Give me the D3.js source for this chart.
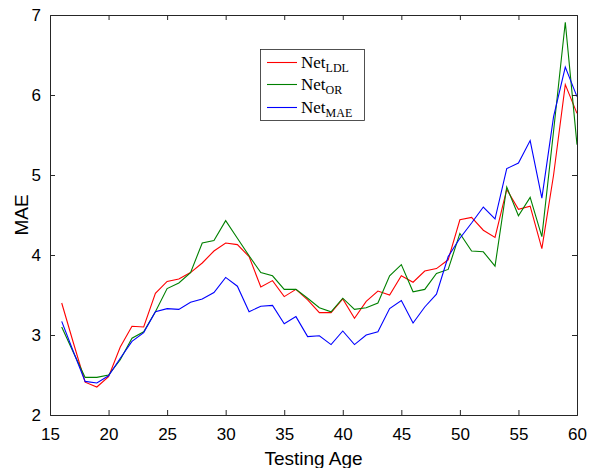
<!DOCTYPE html>
<html><head><meta charset="utf-8">
<script src="https://cdn.jsdelivr.net/npm/d3@7"></script>
<style>body{margin:0;background:#fff}svg{display:block}</style>
</head><body>
<script>
const ages = d3.range(16, 61);
const netLDL = [3.40,2.90,2.41,2.35,2.48,2.85,3.11,3.10,3.52,3.67,3.70,3.78,3.90,4.05,4.15,4.13,3.98,3.60,3.68,3.48,3.57,3.44,3.28,3.28,3.45,3.21,3.42,3.55,3.50,3.74,3.66,3.80,3.83,3.94,4.44,4.47,4.31,4.22,4.82,4.57,4.61,4.08,5.00,6.13,5.77];
const netOR  = [3.10,2.78,2.47,2.47,2.50,2.69,2.96,3.04,3.29,3.58,3.65,3.78,4.15,4.18,4.43,4.21,3.99,3.78,3.74,3.57,3.57,3.46,3.34,3.29,3.46,3.32,3.34,3.40,3.74,3.88,3.54,3.57,3.77,3.82,4.27,4.05,4.04,3.86,4.85,4.49,4.72,4.23,5.55,6.91,5.38];
const netMAE = [3.17,2.79,2.42,2.40,2.49,2.71,2.92,3.03,3.29,3.33,3.32,3.41,3.45,3.53,3.72,3.61,3.29,3.36,3.37,3.14,3.23,2.98,2.99,2.88,3.05,2.88,3.00,3.04,3.33,3.43,3.15,3.35,3.51,3.98,4.21,4.40,4.60,4.45,5.08,5.15,5.43,4.71,5.73,6.35,5.98];
const xTicks = [15,20,25,30,35,40,45,50,55,60];
const yTicks = [2,3,4,5,6,7];
const series = [
  {name:"LDL", values: netLDL, color:"#ff0000"},
  {name:"OR", values: netOR, color:"#008000"},
  {name:"MAE", values: netMAE, color:"#0000ff"}
];

const W = 590, H = 468;
const L = 50, R = 577, T = 15, B = 415;
const axisColor = "#262626";
const svg = d3.select("body").append("svg").attr("width", W).attr("height", H);

const x = d3.scaleLinear().domain([15,60]).range([L,R]);
const y = d3.scaleLinear().domain([2,7]).range([B,T]);

// lines
const line = d3.line().x((d,i)=>x(ages[i])).y(d=>y(d));
series.forEach(s=>{
  svg.append("path").datum(s.values).attr("d", line)
    .attr("fill","none").attr("stroke", s.color).attr("stroke-width",1.1)
    .attr("stroke-linejoin","miter");
});

// axes (ticks inward)
const fontAx = "Liberation Sans, Arial, sans-serif";
const gx = svg.append("g").attr("transform",`translate(0,${B})`)
  .call(d3.axisBottom(x).tickValues(xTicks).tickSize(-5).tickPadding(13).tickFormat(d3.format("d")));
const gxt = svg.append("g").attr("transform",`translate(0,${T})`)
  .call(d3.axisTop(x).tickValues(xTicks).tickSize(-5).tickFormat(""));
const gy = svg.append("g").attr("transform",`translate(${L},0)`)
  .call(d3.axisLeft(y).tickValues(yTicks).tickSize(-5).tickPadding(9).tickFormat(d3.format("d")));
const gyr = svg.append("g").attr("transform",`translate(${R},0)`)
  .call(d3.axisRight(y).tickValues(yTicks).tickSize(-5).tickFormat(""));
[gx,gxt,gy,gyr].forEach(g=>{
  g.selectAll("path").attr("stroke",axisColor).attr("stroke-width",1);
  g.selectAll("line").attr("stroke",axisColor).attr("stroke-width",1);
  g.selectAll("text").attr("fill","#000").style("font-family",fontAx).style("font-size","17px");
});
[gx,gxt].forEach(g=>g.selectAll(".tick").filter(d=>d===15||d===60).select("line").remove());
[gy,gyr].forEach(g=>g.selectAll(".tick").filter(d=>d===2||d===7).select("line").remove());

// axis labels
svg.append("text").attr("x", (L+R)/2).attr("y", 465).attr("text-anchor","middle")
  .style("font-family",fontAx).style("font-size","19px").text("Testing Age");
svg.append("text").attr("transform",`translate(28,${(T+B)/2}) rotate(-90)`).attr("text-anchor","middle")
  .style("font-family",fontAx).style("font-size","19px").text("MAE");

// legend
const lg = svg.append("g");
lg.append("rect").attr("x",260.5).attr("y",49.5).attr("width",104).attr("height",71)
  .attr("fill","#fff").attr("stroke",axisColor).attr("stroke-width",0.8);
const rowsY = [62.5, 84.5, 107.5];
series.forEach((s,i)=>{
  lg.append("line").attr("x1",267).attr("x2",297).attr("y1",rowsY[i]).attr("y2",rowsY[i])
    .attr("stroke",s.color).attr("stroke-width",1.1);
  const t = lg.append("text").attr("x",301).attr("y",rowsY[i]+5)
    .style("font-family","Liberation Serif, DejaVu Serif, serif").style("font-size","17px").attr("fill","#000");
  t.append("tspan").text("Net");
  t.append("tspan").attr("dy",4).style("font-size","12px").text(s.name);
});
</script>
</body></html>
